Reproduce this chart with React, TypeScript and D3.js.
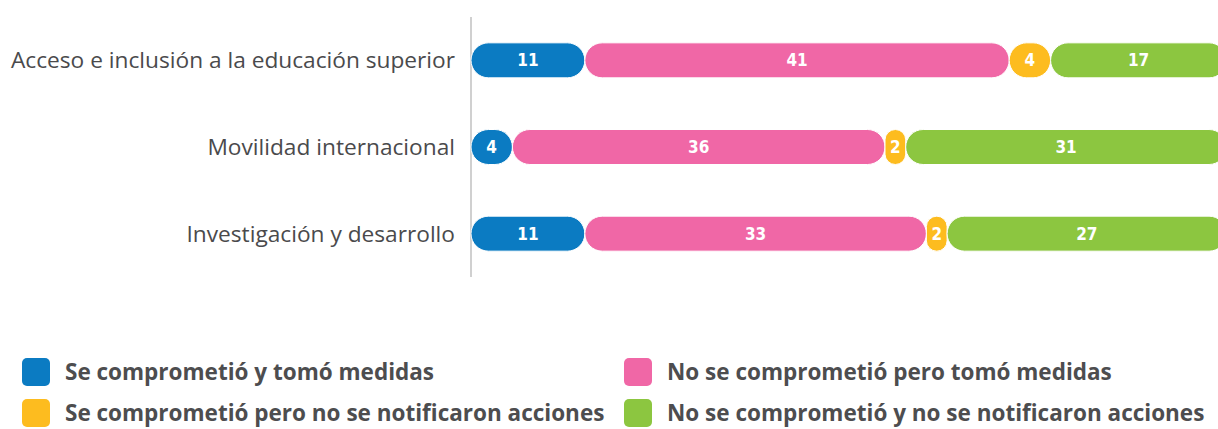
import React from 'react';
import * as d3 from 'd3';

const categories = [
  'Acceso e inclusión a la educación superior',
  'Movilidad internacional',
  'Investigación y desarrollo',
];

const seriesNames = [
  'Se comprometió y tomó medidas',
  'No se comprometió pero tomó medidas',
  'Se comprometió pero no se notificaron acciones',
  'No se comprometió y no se notificaron acciones',
];

const comprometioTomo = [11, 4, 11];
const noComprometioTomo = [41, 36, 33];
const comprometioSinAcciones = [4, 2, 2];
const noComprometioSinAcciones = [17, 31, 27];

const colors = ['#0b7bc2', '#f067a6', '#fdbc1f', '#8cc640'];

const width = 1218;
const height = 429;
const axisX = 471;
const barH = 35;

const App = () => {
  const rows = categories.map((c, i) => ({
    cat: c,
    s0: comprometioTomo[i],
    s1: noComprometioTomo[i],
    s2: comprometioSinAcciones[i],
    s3: noComprometioSinAcciones[i],
  }));
  const keys = ['s0', 's1', 's2', 's3'];
  const stacked = d3.stack().keys(keys)(rows as any);

  const total = d3.max(rows, d => d.s0 + d.s1 + d.s2 + d.s3) as number;
  const x = d3.scaleLinear().domain([0, total]).range([axisX, axisX + total * 10.35]);
  const y = d3.scalePoint().domain(categories).range([17, 277]).padding(0.5);

  // legend layout: two columns, two rows
  const legendPos = [
    { x: 22, y: 372 },
    { x: 624, y: 372 },
    { x: 22, y: 413 },
    { x: 624, y: 413 },
  ];

  return (
    <div style={{ position: 'absolute', left: 0, top: 0 }}>
      <svg width={width} height={height} style={{ display: 'block' }}>
        <line x1={axisX} x2={axisX} y1={17} y2={277} stroke="#d0d0d0" strokeWidth={2} />

        {categories.map(c => (
          <text
            key={c}
            x={455}
            y={(y(c) as number) + 8}
            textAnchor="end"
            fontFamily="'Open Sans', sans-serif"
            fontSize={22.7}
            fill="#4a4a4c"
          >
            {c}
          </text>
        ))}

        {stacked.map((layer, li) => (
          <g key={layer.key}>
            {layer.map((d, i) => {
              const cy = y(categories[i]) as number;
              const x0 = x(d[0]);
              const w = x(d[1]) - x(d[0]);
              return (
                <g key={i}>
                  <rect
                    x={x0}
                    y={cy - barH / 2}
                    width={w}
                    height={barH}
                    rx={Math.min(barH / 2, w / 2)}
                    fill={colors[li]}
                    stroke="#fff"
                    strokeWidth={1}
                  />
                  <text
                    x={x0 + w / 2}
                    y={cy + 6}
                    textAnchor="middle"
                    fontFamily="'Liberation Sans Narrow', 'DejaVu Sans Condensed', sans-serif"
                    fontWeight="bold"
                    fontSize={17}
                    fill="#fff"
                  >
                    {d[1] - d[0]}
                  </text>
                </g>
              );
            })}
          </g>
        ))}

        {seriesNames.map((name, i) => (
          <g key={name} transform={`translate(${legendPos[i].x},${legendPos[i].y})`}>
            <rect x={0} y={-14} width={28} height={28} rx={5} fill={colors[i]} />
            <text
              x={43}
              y={8}
              fontFamily="'Open Sans', sans-serif"
              fontWeight="bold"
              fontSize={22.5}
              fill="#4d4d4f"
            >
              {name}
            </text>
          </g>
        ))}
      </svg>
    </div>
  );
};

export default App;
